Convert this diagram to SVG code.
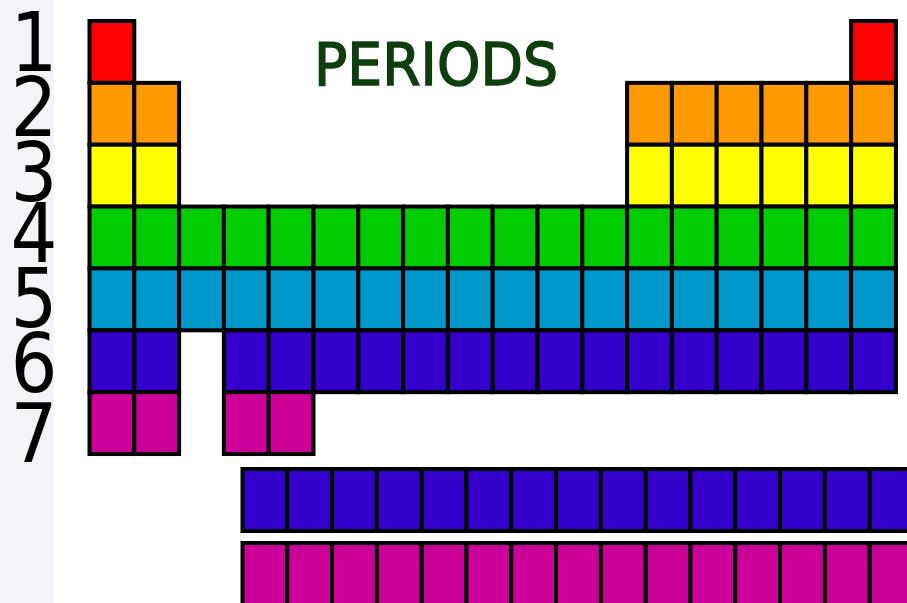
<svg xmlns="http://www.w3.org/2000/svg" width="907" height="603" viewBox="0 0 907 603">
<style>
.c{stroke:#000;stroke-width:4}
.p1{fill:#ff0000}.p2{fill:#ff9900}.p3{fill:#ffff00}.p4{fill:#00cc00}.p5{fill:#0099cc}.p6{fill:#3300cc}.p7{fill:#cc0099}
.num{font-family:"DejaVu Sans Condensed","DejaVu Sans",sans-serif;font-stretch:condensed;font-size:82px;fill:#000;text-anchor:middle}
.title{font-family:"DejaVu Sans",sans-serif;font-size:58px;fill:#0e3d0e;stroke:#0e3d0e;stroke-width:1.5}
</style>
<rect x="0" y="0" width="907" height="603" fill="#ffffff"/>
<g id="sidebar">
<rect x="0" y="0" width="54" height="603" fill="#f4f3f7"/>
<text class="num" x="34" y="71">1</text>
<text class="num" x="34" y="136">2</text>
<text class="num" x="34" y="201">3</text>
<text class="num" x="34" y="262">4</text>
<text class="num" x="34" y="327">5</text>
<text class="num" x="34" y="392">6</text>
<text class="num" x="34" y="462">7</text>
</g>
<g id="title"><text class="title" x="314" y="85" textLength="244" lengthAdjust="spacingAndGlyphs">PERIODS</text></g>
<g id="connectors"></g>
<g id="period1" class="c p1">
<rect x="89.5" y="21" width="44.8" height="61.86"/>
<rect x="851.1" y="21" width="44.8" height="61.86"/>
</g>
<g id="period2" class="c p2">
<rect x="89.5" y="82.86" width="44.8" height="61.86"/>
<rect x="134.3" y="82.86" width="44.8" height="61.86"/>
<rect x="627.1" y="82.86" width="44.8" height="61.86"/>
<rect x="671.9" y="82.86" width="44.8" height="61.86"/>
<rect x="716.7" y="82.86" width="44.8" height="61.86"/>
<rect x="761.5" y="82.86" width="44.8" height="61.86"/>
<rect x="806.3" y="82.86" width="44.8" height="61.86"/>
<rect x="851.1" y="82.86" width="44.8" height="61.86"/>
</g>
<g id="period3" class="c p3">
<rect x="89.5" y="144.72" width="44.8" height="61.86"/>
<rect x="134.3" y="144.72" width="44.8" height="61.86"/>
<rect x="627.1" y="144.72" width="44.8" height="61.86"/>
<rect x="671.9" y="144.72" width="44.8" height="61.86"/>
<rect x="716.7" y="144.72" width="44.8" height="61.86"/>
<rect x="761.5" y="144.72" width="44.8" height="61.86"/>
<rect x="806.3" y="144.72" width="44.8" height="61.86"/>
<rect x="851.1" y="144.72" width="44.8" height="61.86"/>
</g>
<g id="period4" class="c p4">
<rect x="89.5" y="206.58" width="44.8" height="61.86"/>
<rect x="134.3" y="206.58" width="44.8" height="61.86"/>
<rect x="179.1" y="206.58" width="44.8" height="61.86"/>
<rect x="223.9" y="206.58" width="44.8" height="61.86"/>
<rect x="268.7" y="206.58" width="44.8" height="61.86"/>
<rect x="313.5" y="206.58" width="44.8" height="61.86"/>
<rect x="358.3" y="206.58" width="44.8" height="61.86"/>
<rect x="403.1" y="206.58" width="44.8" height="61.86"/>
<rect x="447.9" y="206.58" width="44.8" height="61.86"/>
<rect x="492.7" y="206.58" width="44.8" height="61.86"/>
<rect x="537.5" y="206.58" width="44.8" height="61.86"/>
<rect x="582.3" y="206.58" width="44.8" height="61.86"/>
<rect x="627.1" y="206.58" width="44.8" height="61.86"/>
<rect x="671.9" y="206.58" width="44.8" height="61.86"/>
<rect x="716.7" y="206.58" width="44.8" height="61.86"/>
<rect x="761.5" y="206.58" width="44.8" height="61.86"/>
<rect x="806.3" y="206.58" width="44.8" height="61.86"/>
<rect x="851.1" y="206.58" width="44.8" height="61.86"/>
</g>
<g id="period5" class="c p5">
<rect x="89.5" y="268.44" width="44.8" height="61.86"/>
<rect x="134.3" y="268.44" width="44.8" height="61.86"/>
<rect x="179.1" y="268.44" width="44.8" height="61.86"/>
<rect x="223.9" y="268.44" width="44.8" height="61.86"/>
<rect x="268.7" y="268.44" width="44.8" height="61.86"/>
<rect x="313.5" y="268.44" width="44.8" height="61.86"/>
<rect x="358.3" y="268.44" width="44.8" height="61.86"/>
<rect x="403.1" y="268.44" width="44.8" height="61.86"/>
<rect x="447.9" y="268.44" width="44.8" height="61.86"/>
<rect x="492.7" y="268.44" width="44.8" height="61.86"/>
<rect x="537.5" y="268.44" width="44.8" height="61.86"/>
<rect x="582.3" y="268.44" width="44.8" height="61.86"/>
<rect x="627.1" y="268.44" width="44.8" height="61.86"/>
<rect x="671.9" y="268.44" width="44.8" height="61.86"/>
<rect x="716.7" y="268.44" width="44.8" height="61.86"/>
<rect x="761.5" y="268.44" width="44.8" height="61.86"/>
<rect x="806.3" y="268.44" width="44.8" height="61.86"/>
<rect x="851.1" y="268.44" width="44.8" height="61.86"/>
</g>
<g id="period6" class="c p6">
<rect x="89.5" y="330.3" width="44.8" height="61.86"/>
<rect x="134.3" y="330.3" width="44.8" height="61.86"/>
<rect x="223.9" y="330.3" width="44.8" height="61.86"/>
<rect x="268.7" y="330.3" width="44.8" height="61.86"/>
<rect x="313.5" y="330.3" width="44.8" height="61.86"/>
<rect x="358.3" y="330.3" width="44.8" height="61.86"/>
<rect x="403.1" y="330.3" width="44.8" height="61.86"/>
<rect x="447.9" y="330.3" width="44.8" height="61.86"/>
<rect x="492.7" y="330.3" width="44.8" height="61.86"/>
<rect x="537.5" y="330.3" width="44.8" height="61.86"/>
<rect x="582.3" y="330.3" width="44.8" height="61.86"/>
<rect x="627.1" y="330.3" width="44.8" height="61.86"/>
<rect x="671.9" y="330.3" width="44.8" height="61.86"/>
<rect x="716.7" y="330.3" width="44.8" height="61.86"/>
<rect x="761.5" y="330.3" width="44.8" height="61.86"/>
<rect x="806.3" y="330.3" width="44.8" height="61.86"/>
<rect x="851.1" y="330.3" width="44.8" height="61.86"/>
</g>
<g id="period7" class="c p7">
<rect x="89.5" y="392.16" width="44.8" height="61.86"/>
<rect x="134.3" y="392.16" width="44.8" height="61.86"/>
<rect x="223.9" y="392.16" width="44.8" height="61.86"/>
<rect x="268.7" y="392.16" width="44.8" height="61.86"/>
</g>
<g id="lanthanides" class="c p6">
<rect x="242.5" y="469" width="44.8" height="62"/>
<rect x="287.3" y="469" width="44.8" height="62"/>
<rect x="332.1" y="469" width="44.8" height="62"/>
<rect x="376.9" y="469" width="44.8" height="62"/>
<rect x="421.7" y="469" width="44.8" height="62"/>
<rect x="466.5" y="469" width="44.8" height="62"/>
<rect x="511.3" y="469" width="44.8" height="62"/>
<rect x="556.1" y="469" width="44.8" height="62"/>
<rect x="600.9" y="469" width="44.8" height="62"/>
<rect x="645.7" y="469" width="44.8" height="62"/>
<rect x="690.5" y="469" width="44.8" height="62"/>
<rect x="735.3" y="469" width="44.8" height="62"/>
<rect x="780.1" y="469" width="44.8" height="62"/>
<rect x="824.9" y="469" width="44.8" height="62"/>
<rect x="869.7" y="469" width="44.8" height="62"/>
</g>
<g id="actinides" class="c p7">
<rect x="242.5" y="543" width="44.8" height="62"/>
<rect x="287.3" y="543" width="44.8" height="62"/>
<rect x="332.1" y="543" width="44.8" height="62"/>
<rect x="376.9" y="543" width="44.8" height="62"/>
<rect x="421.7" y="543" width="44.8" height="62"/>
<rect x="466.5" y="543" width="44.8" height="62"/>
<rect x="511.3" y="543" width="44.8" height="62"/>
<rect x="556.1" y="543" width="44.8" height="62"/>
<rect x="600.9" y="543" width="44.8" height="62"/>
<rect x="645.7" y="543" width="44.8" height="62"/>
<rect x="690.5" y="543" width="44.8" height="62"/>
<rect x="735.3" y="543" width="44.8" height="62"/>
<rect x="780.1" y="543" width="44.8" height="62"/>
<rect x="824.9" y="543" width="44.8" height="62"/>
<rect x="869.7" y="543" width="44.8" height="62"/>
</g>
</svg>
